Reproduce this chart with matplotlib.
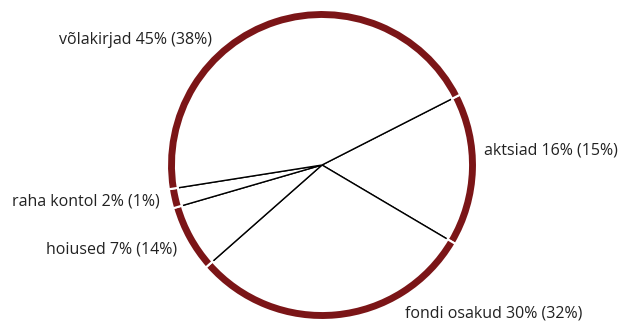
import matplotlib
matplotlib.use("Agg")
import matplotlib.pyplot as plt

labels = ["aktsiad", "fondi osakud", "hoiused", "raha kontol", "võlakirjad"]
shares = [16, 30, 7, 2, 45]
prev_shares = [15, 32, 14, 1, 38]

ring_color = "#7b1517"
text_color = "#222222"

fig = plt.figure(figsize=(6.22, 3.22), dpi=100)
ax = fig.add_axes([0, 0, 1, 1])

cx, cy, r = 322, 322 - 165, 154
ring_w = 9

# inner white pie with thin black dividers
ax.pie(shares, startangle=27, counterclock=False, center=(cx, cy), radius=r - 7,
       wedgeprops=dict(facecolor="white", edgecolor="black", linewidth=1.0), frame=True)
# outer dark red ring, white gaps between segments
ax.pie(shares, startangle=27, counterclock=False, center=(cx, cy), radius=r + 1,
       wedgeprops=dict(width=ring_w, facecolor=ring_color, edgecolor="white", linewidth=1.5), frame=True)
ax.set_xlim(0, 622)
ax.set_ylim(0, 322)
ax.set_aspect("equal")
ax.axis("off")

# label positions in pixels: (x, y, ha)
pos = [(484, 150, "left"), (405, 313, "left"), (177, 250, "right"),
       (160, 201, "right"), (212, 40, "right")]
for lab, s, p, (x, y, ha) in zip(labels, shares, prev_shares, pos):
    ax.text(x, 322 - y, f"{lab} {s}% ({p}%)", ha=ha, va="center",
            fontsize=11.5, family="Open Sans", color=text_color)

fig.savefig("out.png", dpi=100)
